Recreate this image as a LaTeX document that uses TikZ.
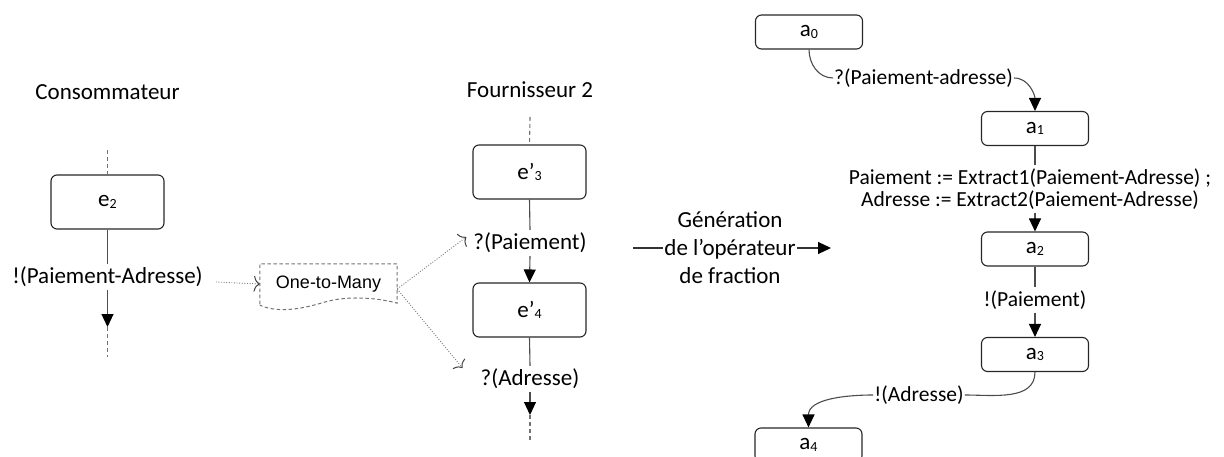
\documentclass[tikz,border=0pt]{standalone}
\usepackage{fontspec}
\setmainfont{Carlito}
\newfontfamily\arialfont{Liberation Sans}
\usetikzlibrary{arrows.meta,calc}
\newcommand\fsz[2]{\fontsize{#1}{#2}\selectfont}
\newcommand\sbs[1]{\raisebox{-1.5pt}{\fsz{14}{14}#1}}
\tikzset{
  box/.style={draw=black!85, line width=1.1pt, rounded corners=6pt,
    minimum width=113pt, minimum height=54pt, inner sep=0pt, font=\fsz{23}{24}},
  abox/.style={box, minimum width=107pt, minimum height=34pt},
  head/.style={inner sep=1pt, font=\fsz{23}{27}},
  lbl/.style={inner xsep=1pt, inner ysep=3pt, font=\fsz{23}{25}},
  albl/.style={inner xsep=1pt, inner ysep=3pt, font=\fsz{21.5}{22}, align=center},
  wire/.style={draw=black!70, line width=1.1pt},
  arr/.style={wire, -{Triangle[length=13pt,width=12pt,color=black]}},
  lifeline/.style={draw=black!55, line width=1.1pt, dash pattern=on 4pt off 3pt},
  dotwire/.style={draw=black!50, line width=0.9pt, dash pattern=on 1pt off 1.6pt,
    -{To[length=6pt,width=16pt,color=black!75,line width=1pt]}},
  otmbox/.style={minimum width=137pt, minimum height=40pt, inner sep=0pt,
    font=\arialfont\fsz{18}{20}},
}
\begin{document}
\begin{tikzpicture}[x=1pt,y=-1pt]
\useasboundingbox (0,0) rectangle (1224,457);

% ---------------- Consommateur
\node[head] (hC) at (107.5,92) {Consommateur};
\node[box] (e2) at (107.5,202) {e\sbs{2}};
\node[lbl] (lPA) at (107.5,277) {!(Paiement-Adresse)};
\coordinate (cTop) at (107.5,150);
\coordinate (cTip) at (107.5,327);
\coordinate (cEnd) at (107.5,357);
\draw[lifeline] (cTop) -- (e2.north);
\draw[wire] (e2.south) -- (lPA.north);
\draw[arr] (lPA.south) -- (cTip);
\draw[lifeline] (cTip) -- (cEnd);

% ---------------- One-to-Many
\node[otmbox] (otm) at (328.5,284) {One-to-Many};
\draw[lifeline, line width=1pt, dash pattern=on 3.5pt off 2.5pt]
  (otm.south west) -- (otm.north west) -- (otm.north east) -- ($(otm.south east)+(0,-1)$)
  .. controls (375,297) and (345,296) .. (325,302)
  .. controls (305,308) and (280,314) .. ($(otm.south west)+(0,1)$);
\coordinate (oR) at ($(otm.east)+(0,5)$);

% ---------------- Fournisseur 2
\node[head] (hF) at (530,90) {Fournisseur 2};
\node[box] (e3) at (529.5,172) {e’\sbs{3}};
\node[lbl] (lP) at (530,243) {?(Paiement)};
\node[box] (e4) at (529.5,310) {e’\sbs{4}};
\node[lbl] (lA) at (530,379) {?(Adresse)};
\coordinate (fTop) at (530,117);
\coordinate (fTip) at (530,415);
\coordinate (fEnd) at (530,440);
\draw[lifeline] (fTop) -- (e3.north);
\draw[wire] (e3.south) -- (lP.north);
\draw[arr] (lP.south) -- (e4.north);
\draw[wire] (e4.south) -- (lA.north);
\draw[arr] (lA.south) -- (fTip);
\draw[lifeline] (fTip) -- (fEnd);

% dotted links through the One-to-Many operator
\draw[dotwire] ($(lPA.east)+(12,5)$) -- ($(otm.west)+(0,0)$);
\draw[dotwire] (oR) -- ($(lP.west)+(-6,-6)$);
\draw[dotwire] (oR) -- ($(lA.west)+(-17,-11)$);

% ---------------- transformation arrow
\node[inner sep=1pt, align=center, font=\fsz{23}{28}] (gen) at (730,248)
  {Génération\\de l’opérateur\\de fraction};
\coordinate (gS) at (633,248);
\coordinate (gE) at (831,248);
\draw[wire, draw=black!80] (gS) -- (gS -| gen.west);
\draw[arr, draw=black!80] (gE -| gen.east) -- (gE);

% ---------------- generated operator
\node[abox] (a0) at (809,32) {a\sbs{0}};
\node[abox] (a1) at (1035,128.5) {a\sbs{1}};
\node[abox] (a2) at (1035,249) {a\sbs{2}};
\node[abox] (a3) at (1035,354.5) {a\sbs{3}};
\node[abox] (a4) at (808.5,445) {a\sbs{4}};
\node[albl, anchor=west] (l0) at (833,78) {?(Paiement-adresse)};
\node[albl] (l1) at (1030,189)
  {Paiement := Extract1(Paiement-Adresse) ;\\Adresse := Extract2(Paiement-Adresse)};
\node[albl] (l2) at (1035,300) {!(Paiement)};
\node[albl] (l3) at (919,395) {!(Adresse)};

\draw[wire] (a0.south) to[out=-90,in=180] (l0.west);
\draw[arr] (l0.east) to[out=0,in=90] (a1.north);
\draw[wire] (a1.south) -- (a1.south |- l1.north);
\draw[arr] (a1.south |- l1.south) -- (a2.north);
\draw[wire] (a2.south) -- (l2.north);
\draw[arr] (l2.south) -- (a3.north);
\draw[wire] (a3.south) to[out=-90,in=0] (l3.east);
\draw[arr] (l3.west) to[out=180,in=90] (a4.north);
\end{tikzpicture}
\end{document}
